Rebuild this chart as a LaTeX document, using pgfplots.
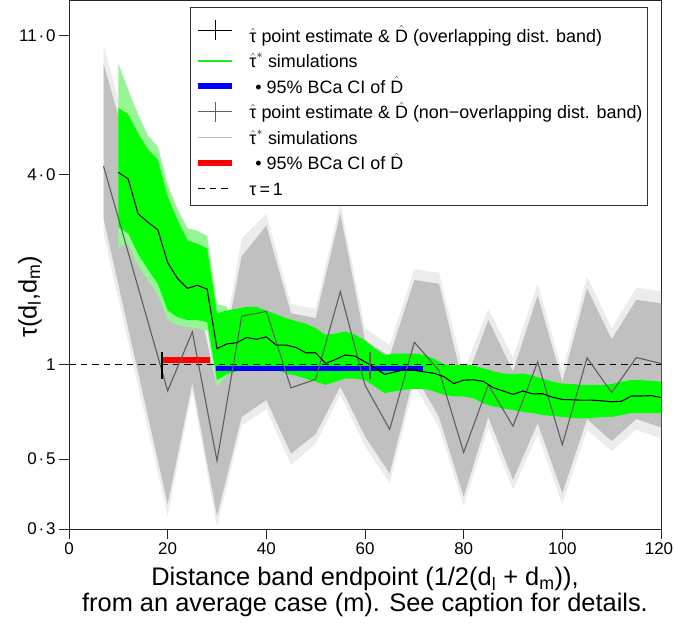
\documentclass[border=0pt]{standalone}
\usepackage{fontspec}
\setmainfont{Liberation Sans}
\usepackage{pgfplots}
\pgfplotsset{compat=1.18}
\definecolor{bandgrey}{RGB}{192,192,192}
\definecolor{faintgrey}{RGB}{236,236,236}
\definecolor{bandgreen}{RGB}{0,255,0}
\definecolor{legendgreen}{RGB}{30,240,30}
\definecolor{faintgreen}{RGB}{150,246,150}
\definecolor{linegrey}{RGB}{95,95,95}
\definecolor{legendgrey}{RGB}{195,195,195}
\newcommand\that{$\hat{\mbox{τ}}$}
\newcommand\tstar{$\hat{\mbox{τ}}^{*}$}
\newcommand\Dhat{$\hat{\mbox{D}}$}
\newcommand\cd{\kern1.8bp·\kern1.8bp}
\newcommand\ls{\rule[-5bp]{0pt}{24bp}}
\newcommand\lsfirst{\rule[-5bp]{0pt}{34bp}}
\begin{document}
\begin{tikzpicture}
\path[use as bounding box] (0,0) rectangle (674bp,628bp);
\begin{axis}[
  at={(69bp,99bp)}, anchor=south west,
  scale only axis, width=592bp, height=528bp,
  xmin=0, xmax=120, ymin=0.3, ymax=14.2, ymode=log,
  xtick={0,20,40,60,80,100,120},
  xticklabels={0,20,40,60,80,100,\hspace*{-4bp}120},
  ytick={0.3,0.5,1,4,11},
  yticklabels={0\cd 3,0\cd 5,1,4\cd 0,11\cd 0},
  yminorticks=false,
  tick pos=left, tick align=outside, major tick length=10bp,
  axis line style={line width=1bp, black!85},
  every tick/.style={line width=1bp, black!85},
  ticklabel style={font=\fontsize{17}{20}\selectfont},
  /pgf/number format/assume math mode=true,
  xlabel={Distance band endpoint (1/2(d\textsubscript{l} + d\textsubscript{m})),\\from an average case (m). See caption for details.},
  xlabel style={at={(axis description cs:0.5,0)}, anchor=north, yshift=-35bp, align=center, font=\fontsize{25.5}{26}\selectfont},
  ylabel={τ(d\textsubscript{l},d\textsubscript{m})},
  ylabel style={at={(axis description cs:-0.066,0.44)}, anchor=center, font=\fontsize{25.5}{25.5}\selectfont},
  legend style={at={(1,1)}, anchor=north east, xshift=-13bp, yshift=-6.5bp,
    font=\fontsize{18}{21}\selectfont, draw=black!80, line width=1bp, fill=white,
    inner xsep=5bp, inner ysep=5.5bp, row sep=1.5bp, column sep=14bp,
    nodes={inner xsep=0pt, inner ysep=0pt, text depth=5bp},
    cells={anchor=west}},
]
% ---- legend entries ----
\addlegendimage{legend image code/.code={\draw[black,line width=1bp] (0bp,0bp)--(34bp,0bp); \draw[black,line width=1bp] (17bp,-10bp)--(17bp,10bp);}}
\addlegendentry{\lsfirst\that{} point estimate \& \Dhat{} (overlapping dist. band)}
\addlegendimage{legend image code/.code={\draw[draw=legendgreen,line width=1.4bp] (0bp,0bp)--(34bp,0bp);}}
\addlegendentry{\ls\tstar{} simulations}
\addlegendimage{legend image code/.code={\draw[draw=blue,line width=6bp] (0bp,0bp)--(34bp,0bp);}}
\addlegendentry{\ls\hspace{6bp}•\hspace{5bp}95\% BCa CI of \Dhat}
\addlegendimage{legend image code/.code={\draw[linegrey,line width=1bp] (0bp,0bp)--(34bp,0bp); \draw[linegrey,line width=1bp] (17bp,-10bp)--(17bp,10bp);}}
\addlegendentry{\ls\that{} point estimate \& \Dhat{} (non−overlapping dist. band)}
\addlegendimage{legend image code/.code={\draw[draw=legendgrey,line width=1.4bp] (0bp,0bp)--(34bp,0bp);}}
\addlegendentry{\ls\tstar{} simulations}
\addlegendimage{legend image code/.code={\draw[draw=red,line width=6bp] (0bp,0bp)--(34bp,0bp);}}
\addlegendentry{\ls\hspace{6bp}•\hspace{5bp}95\% BCa CI of \Dhat}
\addlegendimage{legend image code/.code={\draw[black,line width=1bp,dash pattern=on 6.5bp off 5bp] (0bp,0bp)--(34bp,0bp);}}
\addlegendentry{\ls τ\,=\,1}

% ---- grey simulation band (non-overlapping) ----
\addplot[fill=faintgrey, draw=none, forget plot] coordinates {
(7,10.3) (20,1.8) (25,2.0) (30,0.9) (35,2.5) (40,3.0) (45,1.55) (50,1.5) (55,3.25) (60,1.3) (65,1.15) (70,2.0) (75,1.95) (80,0.95) (85,1.5) (90,1.05) (95,1.8) (100,0.95) (105,1.9) (110,1.3) (115,1.75) (120,1.7)
(120,0.58) (115,0.62) (110,0.53) (105,0.62) (100,0.36) (95,0.60) (90,0.40) (85,0.63) (80,0.355) (75,0.63) (70,0.86) (65,0.42) (60,0.55) (55,0.80) (50,0.56) (45,0.48) (40,0.72) (35,0.64) (30,0.305) (25,0.82) (20,0.33) (7,2.6)
} -- cycle;
\addplot[fill=bandgrey, draw=none, forget plot] coordinates {
(7,9.0) (20,1.7) (25,1.9) (30,0.85) (35,2.2) (40,2.75) (45,1.45) (50,1.40) (55,3.0) (60,1.19) (65,1.06) (70,1.85) (75,1.80) (80,0.85) (85,1.38) (90,0.95) (95,1.65) (100,0.88) (105,1.74) (110,1.2) (115,1.6) (120,1.56)
(120,0.63) (115,0.67) (110,0.57) (105,0.67) (100,0.39) (95,0.65) (90,0.43) (85,0.68) (80,0.38) (75,0.68) (70,0.93) (65,0.45) (60,0.59) (55,0.85) (50,0.60) (45,0.52) (40,0.77) (35,0.68) (30,0.33) (25,0.87) (20,0.36) (7,2.9)
} -- cycle;
% ---- green simulation band (overlapping) ----
\addplot[fill=faintgreen, draw=none, forget plot] coordinates {
(10,9.0) (12,7.4) (14,6.2) (16,5.3) (18,4.9) (20,3.7) (22,3.1) (24,2.7) (26,2.65) (28,2.55) (30,1.55) (32,1.52)
(32,0.92) (30,0.85) (28,1.28) (26,1.30) (24,1.31) (22,1.33) (20,1.38) (18,1.66) (16,1.85) (14,2.05) (12,2.40) (10,2.35)
} -- cycle;
\addplot[fill=bandgreen, draw=none, forget plot] coordinates {
(10,6.5) (12,6.2) (14,5.4) (16,4.8) (18,4.45) (20,3.4) (22,2.86) (24,2.47) (26,2.41) (28,2.33) (30,1.45) (32,1.48) (34,1.50) (36,1.52) (38,1.52) (40,1.48) (42,1.44) (44,1.40) (46,1.37) (48,1.345) (50,1.30) (52,1.24) (54,1.25) (56,1.27) (58,1.24) (60,1.19) (62,1.12) (64,1.07) (66,1.08) (68,1.08) (70,1.08) (72,1.07) (74,1.04) (76,1.0) (78,0.99) (80,1.0) (82,0.99) (84,0.97) (86,0.95) (88,0.935) (90,0.93) (92,0.935) (94,0.92) (96,0.90) (98,0.88) (100,0.868) (102,0.865) (104,0.86) (106,0.86) (108,0.86) (110,0.865) (112,0.88) (114,0.89) (116,0.89) (118,0.885) (120,0.88)
(120,0.70) (118,0.70) (116,0.70) (114,0.70) (112,0.69) (110,0.68) (108,0.68) (106,0.675) (104,0.673) (102,0.675) (100,0.68) (98,0.685) (96,0.69) (94,0.70) (92,0.706) (90,0.715) (88,0.724) (86,0.735) (84,0.75) (82,0.78) (80,0.79) (78,0.79) (76,0.80) (74,0.82) (72,0.835) (70,0.835) (68,0.83) (66,0.82) (64,0.81) (62,0.85) (60,0.89) (58,0.90) (56,0.90) (54,0.88) (52,0.86) (50,0.88) (48,0.90) (46,0.92) (44,0.935) (42,0.96) (40,0.99) (38,0.97) (36,0.96) (34,0.95) (32,0.93) (30,0.89) (28,1.36) (26,1.38) (24,1.38) (22,1.41) (20,1.48) (18,1.80) (16,2.0) (14,2.24) (12,2.60) (10,2.72)
} -- cycle;
% ---- reference line tau = 1 ----
\addplot[black, line width=1bp, dash pattern=on 6.5bp off 5bp, forget plot] coordinates {(0,1) (120,1)};
% ---- 95% BCa CIs ----
\addplot[red, line width=5.5bp, line cap=butt, forget plot] coordinates {(18.6,1.03) (28.6,1.03)};
\addplot[blue, line width=5.5bp, line cap=butt, forget plot] coordinates {(29.8,0.968) (71.8,0.968)};
% ---- non-overlapping point estimate ----
\addplot[linegrey, line width=1.1bp, forget plot] coordinates {
(7,4.25) (20,0.823) (25,1.266) (30,0.494) (35,1.42) (40,1.47) (45,0.841) (50,0.896) (55,1.70) (60,0.858) (65,0.621) (70,1.174) (75,0.955) (80,0.525) (85,0.86) (90,0.636) (95,1.017) (100,0.555) (105,1.047) (110,0.813) (115,1.05) (120,1.005)
};
% ---- overlapping point estimate ----
\addplot[black, line width=1.1bp, forget plot] coordinates {
(10,4.06) (12,3.87) (14,3.0) (16,2.82) (18,2.67) (20,2.10) (22,1.87) (24,1.74) (26,1.78) (28,1.73) (30,1.12) (32,1.16) (34,1.17) (36,1.215) (38,1.20) (40,1.22) (42,1.15) (44,1.15) (46,1.13) (48,1.087) (50,1.087) (52,1.005) (54,1.035) (56,1.07) (58,1.06) (60,1.017) (62,0.975) (64,0.928) (66,0.945) (68,0.96) (70,0.957) (72,0.945) (74,0.936) (76,0.913) (78,0.868) (80,0.89) (82,0.892) (84,0.882) (86,0.842) (88,0.822) (90,0.802) (92,0.822) (94,0.805) (96,0.806) (98,0.786) (100,0.773) (102,0.771) (104,0.769) (106,0.769) (108,0.765) (110,0.76) (112,0.763) (114,0.793) (116,0.793) (118,0.795) (120,0.784)
};
% ---- D-hat markers ----
\addplot[black, line width=1.8bp, forget plot] coordinates {(18.9,0.90) (18.9,1.095)};
\addplot[linegrey, line width=1.8bp, forget plot] coordinates {(61.0,0.90) (61.0,1.095)};
\end{axis}
\end{tikzpicture}
\end{document}
